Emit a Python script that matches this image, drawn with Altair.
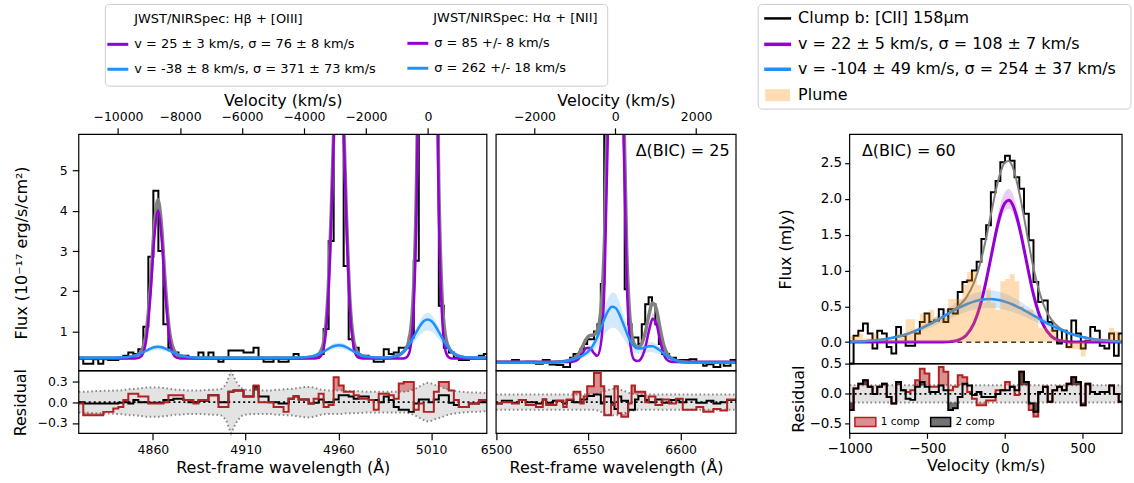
import altair as alt
import numpy as np
import pandas as pd

FONT = "DejaVu Sans"
PURPLE = "#9400d3"
BLUE = "#1e90ff"
GRAY = "#808080"
RED = "#b22222"
ORANGE = "#ff8c00"

# ---------------- data: panel 1 (Hbeta + [OIII]) ----------------
P1_START, P1_STEP = 4819.73, 2.7          # spectral bins (rest-frame Angstrom)
P1_FLUX = [0.35, 0.20, 0.20, 0.31, 0.20, 0.31, 0.29, 0.29, 0.35, 0.40,
           0.48, 0.44, 0.56, 1.12, 2.86, 4.50, 3.00, 1.18, 0.60, 0.48,
           0.40, 0.40, 0.35, 0.35, 0.48, 0.35, 0.48, 0.35, 0.25, 0.35,
           0.53, 0.53, 0.53, 0.48, 0.48, 0.60, 0.35, 0.25, 0.25, 0.35,
           0.25, 0.25, 0.35, 0.44, 0.35, 0.35, 0.37, 0.35, 0.44, 1.06,
           3.25, 7.50, 7.00, 2.63, 0.81, 0.60, 0.40, 0.40, 0.35, 0.25,
           0.25, 0.56, 0.44, 0.48, 0.60, 0.60, 0.85, 2.76, 12.0, 22.0,
           18.0, 8.00, 1.64, 0.60, 0.48, 0.35, 0.29, 0.29, 0.35, 0.35,
           0.40, 0.44]
P1_RES2 = [0.0, -0.02, -0.02, -0.02, -0.02, -0.02, -0.02, -0.02, -0.01, 0.0,
           -0.02, 0.03, 0.0, 0.0, -0.01, -0.01, -0.01, 0.03, 0.03, 0.05,
           0.05, 0.03, 0.0, 0.0, 0.02, 0.02, 0.10, 0.10, 0.0, 0.0,
           0.15, 0.17, 0.17, 0.08, 0.08, 0.23, 0.08, 0.08, 0.0, 0.0,
           -0.02, -0.02, 0.05, 0.08, 0.04, 0.04, -0.02, -0.01, 0.04, 0.0,
           0.0, 0.04, 0.10, 0.10, 0.08, 0.05, 0.08, 0.08, 0.03, 0.03,
           0.0, 0.08, 0.03, -0.07, -0.11, -0.11, -0.14, -0.02, 0.04, 0.04,
           0.0, 0.04, 0.10, 0.10, -0.01, -0.04, -0.07, -0.07, -0.02, -0.02,
           0.0, 0.0]
P1_RES1 = [-0.02, -0.19, -0.19, -0.19, -0.19, -0.14, -0.14, -0.09, -0.07, 0.03,
           0.12, 0.12, 0.08, 0.08, -0.02, -0.02, -0.02, 0.0, 0.10, 0.10,
           0.10, 0.03, 0.03, -0.02, 0.03, 0.03, 0.10, 0.10, -0.07, -0.07,
           0.15, 0.17, 0.17, 0.08, 0.08, 0.24, 0.0, 0.0, 0.0, -0.07,
           -0.07, -0.14, 0.05, 0.09, 0.04, 0.04, -0.02, 0.05, 0.12, -0.07,
           -0.04, 0.36, 0.24, 0.15, 0.15, 0.10, 0.05, 0.05, 0.03, -0.11,
           0.12, 0.12, 0.10, 0.05, 0.27, 0.29, 0.29, -0.11, -0.02, -0.14,
           -0.14, 0.15, 0.29, 0.29, 0.17, 0.03, -0.07, -0.07, -0.02, -0.02,
           0.03, 0.03]
P1_NOISE = [0.15, 0.15, 0.155, 0.16, 0.16, 0.165, 0.165, 0.17, 0.17, 0.18,
            0.19, 0.19, 0.20, 0.21, 0.21, 0.21, 0.21, 0.20, 0.19, 0.18,
            0.18, 0.17, 0.17, 0.17, 0.17, 0.175, 0.18, 0.18, 0.19, 0.25,
            0.45, 0.30, 0.20, 0.18, 0.17, 0.17, 0.17, 0.17, 0.17, 0.18,
            0.18, 0.19, 0.19, 0.20, 0.21, 0.22, 0.22, 0.20, 0.18, 0.17,
            0.17, 0.17, 0.17, 0.16, 0.16, 0.16, 0.155, 0.15, 0.15, 0.15,
            0.15, 0.15, 0.15, 0.15, 0.15, 0.15, 0.17, 0.20, 0.24, 0.28,
            0.27, 0.24, 0.22, 0.19, 0.17, 0.16, 0.15, 0.145, 0.14, 0.14,
            0.135, 0.13]
# model curves
P1_MW = [4820.0,
         4838.7, 4840.7, 4842.7, 4844.7, 4846.7, 4848.7, 4850.7, 4852.7, 4854.7, 4856.7,
         4858.7, 4860.7, 4862.7, 4864.7, 4866.7, 4868.7, 4870.7, 4872.7, 4874.7, 4876.7,
         4878.7, 4880.7, 4882.7, 4884.7, 4886.7,
         4936.2, 4938.2, 4940.2, 4942.2, 4944.2, 4946.2, 4948.2, 4950.2, 4952.2, 4954.2,
         4956.2, 4958.2, 4960.2, 4962.2, 4964.2, 4966.2, 4968.2, 4970.2, 4972.2, 4974.2,
         4976.2, 4978.2, 4980.2, 4982.2, 4984.2,
         4986.1, 4988.1, 4990.1, 4992.1, 4994.1, 4996.1, 4998.1, 5000.1, 5002.1, 5004.1,
         5006.1, 5008.1, 5010.1, 5012.1, 5014.1, 5016.1, 5018.1, 5020.1, 5022.1, 5024.1,
         5026.1, 5028.1, 5030.1, 5032.1, 5040.0]
P1_PURPLE = [0.33,
             0.33, 0.33, 0.33, 0.33, 0.33, 0.33, 0.332, 0.35, 0.462, 0.895,
             1.926, 3.31, 4.00, 3.31, 1.926, 0.895, 0.462, 0.35, 0.332, 0.33,
             0.33, 0.33, 0.33, 0.33, 0.33,
             0.33, 0.33, 0.33, 0.33, 0.33, 0.33, 0.335, 0.374, 0.618, 1.562,
             3.81, 6.826, 8.33, 6.826, 3.81, 1.562, 0.618, 0.374, 0.335, 0.33,
             0.33, 0.33, 0.33, 0.33, 0.33,
             0.33, 0.33, 0.33, 0.33, 0.33, 0.344, 0.462, 1.194, 4.026, 10.77,
             19.82, 24.33, 19.82, 10.77, 4.026, 1.194, 0.462, 0.344, 0.33, 0.33,
             0.33, 0.33, 0.33, 0.33, 0.33]
P1_BLUE = [0.35,
           0.35, 0.351, 0.354, 0.358, 0.367, 0.382, 0.407, 0.442, 0.485, 0.533,
           0.577, 0.609, 0.62, 0.609, 0.577, 0.533, 0.485, 0.442, 0.407, 0.382,
           0.367, 0.358, 0.354, 0.351, 0.35,
           0.351, 0.352, 0.354, 0.359, 0.37, 0.387, 0.415, 0.455, 0.505, 0.56,
           0.611, 0.647, 0.66, 0.647, 0.611, 0.56, 0.505, 0.455, 0.415, 0.387,
           0.37, 0.359, 0.354, 0.352, 0.351,
           0.355, 0.362, 0.379, 0.41, 0.464, 0.55, 0.672, 0.826, 0.994, 1.149,
           1.26, 1.30, 1.26, 1.149, 0.994, 0.826, 0.672, 0.55, 0.464, 0.41,
           0.379, 0.362, 0.355, 0.352, 0.35]
P1_TOTAL = [0.34,
            0.34, 0.341, 0.344, 0.348, 0.357, 0.372, 0.399, 0.452, 0.607, 1.088,
            2.163, 3.579, 4.28, 3.579, 2.163, 1.088, 0.607, 0.452, 0.399, 0.372,
            0.357, 0.348, 0.344, 0.341, 0.34,
            0.341, 0.342, 0.344, 0.349, 0.36, 0.377, 0.41, 0.489, 0.783, 1.782,
            4.081, 7.133, 8.65, 7.133, 4.081, 1.782, 0.783, 0.489, 0.41, 0.377,
            0.36, 0.349, 0.344, 0.342, 0.341,
            0.345, 0.352, 0.369, 0.40, 0.454, 0.554, 0.794, 1.68, 4.68, 11.58,
            20.74, 25.29, 20.74, 11.58, 4.68, 1.68, 0.794, 0.554, 0.454, 0.40,
            0.369, 0.352, 0.345, 0.342, 0.34]
P1_BAND_LO = [0.35,
              0.35, 0.351, 0.352, 0.356, 0.362, 0.373, 0.39, 0.414, 0.445, 0.479,
              0.51, 0.532, 0.54, 0.532, 0.51, 0.479, 0.445, 0.414, 0.39, 0.373,
              0.362, 0.356, 0.352, 0.351, 0.35,
              0.35, 0.351, 0.353, 0.357, 0.364, 0.378, 0.399, 0.428, 0.465, 0.506,
              0.543, 0.57, 0.58, 0.57, 0.543, 0.506, 0.465, 0.428, 0.399, 0.378,
              0.364, 0.357, 0.353, 0.351, 0.35,
              0.353, 0.359, 0.37, 0.393, 0.432, 0.493, 0.581, 0.691, 0.811, 0.922,
              1.001, 1.03, 1.001, 0.922, 0.811, 0.691, 0.581, 0.493, 0.432, 0.393,
              0.37, 0.359, 0.353, 0.351, 0.35]
P1_BAND_HI = [0.35,
              0.35, 0.352, 0.354, 0.36, 0.371, 0.39, 0.42, 0.462, 0.515, 0.574,
              0.628, 0.666, 0.68, 0.666, 0.628, 0.574, 0.515, 0.462, 0.42, 0.39,
              0.371, 0.36, 0.354, 0.352, 0.35,
              0.351, 0.352, 0.355, 0.361, 0.374, 0.396, 0.43, 0.479, 0.54, 0.608,
              0.67, 0.714, 0.73, 0.714, 0.67, 0.608, 0.54, 0.479, 0.43, 0.396,
              0.374, 0.361, 0.355, 0.352, 0.351,
              0.356, 0.365, 0.384, 0.421, 0.484, 0.586, 0.73, 0.911, 1.109, 1.292,
              1.423, 1.47, 1.423, 1.292, 1.109, 0.911, 0.73, 0.586, 0.484, 0.421,
              0.384, 0.365, 0.356, 0.352, 0.35]

# ---------------- data: panel 2 (Halpha + [NII]) ----------------
P2_START, P2_STEP = 6499.4, 1.85
P2_FLUX = [0.25, 0.25, 0.25, 0.25, 0.25, 0.29, 0.29, 0.23, 0.23, 0.25,
           0.25, 0.25, 0.20, 0.20, 0.29, 0.29, 0.18, 0.18, 0.17, 0.17,
           0.12, 0.12, 0.35, 0.44, 0.44, 0.56, 0.69, 0.81, 0.81, 1.00,
           1.18, 2.18, 6.5, 11.0, 15.0, 16.0, 12.0, 7.0, 2.05, 1.18,
           0.85, 0.85, 0.69, 1.18, 1.68, 1.85, 1.68, 1.18, 0.69, 0.44,
           0.44, 0.35, 0.35, 0.29, 0.29, 0.29, 0.29, 0.31, 0.31, 0.23,
           0.23, 0.15, 0.19, 0.19, 0.12, 0.12, 0.23, 0.15, 0.15, 0.29,
           0.29]
P2_RES2 = [-0.02, -0.02, 0.02, 0.02, 0.02, -0.01, -0.01, 0.03, 0.03, 0.0,
           0.0, 0.0, -0.02, -0.02, 0.04, -0.01, -0.01, 0.02, 0.02, 0.02,
           -0.02, 0.03, 0.03, 0.0, 0.0, 0.04, 0.04, 0.09, 0.09, 0.11,
           0.11, -0.02, 0.08, 0.08, -0.01, -0.10, 0.08, 0.02, 0.02, -0.11,
           -0.11, 0.04, 0.09, 0.09, 0.03, 0.0, 0.0, 0.04, 0.04, -0.01,
           -0.01, 0.03, 0.03, 0.03, 0.0, 0.0, 0.04, 0.04, 0.04, -0.01,
           -0.01, -0.01, 0.02, 0.02, -0.02, -0.02, 0.0, 0.0, 0.03, 0.03,
           0.03]
P2_RES1 = [-0.02, -0.02, 0.0, 0.0, 0.0, -0.02, -0.02, 0.03, 0.03, -0.04,
           -0.04, -0.04, -0.07, -0.07, 0.04, -0.04, -0.04, -0.04, 0.02, 0.02,
           -0.07, 0.04, 0.04, 0.15, 0.15, -0.02, 0.08, 0.23, 0.23, 0.42,
           0.42, 0.23, -0.19, -0.19, -0.04, 0.23, -0.16, -0.21, -0.21, -0.02,
           0.24, 0.15, 0.15, 0.15, 0.0, 0.08, 0.08, -0.04, -0.04, 0.04,
           0.04, -0.02, -0.02, 0.05, 0.05, -0.11, -0.11, -0.11, -0.11, -0.07,
           -0.07, -0.14, -0.14, -0.14, -0.10, -0.10, -0.12, -0.12, 0.04, 0.04,
           0.04]
P2_NOISE = [0.11] * 30 + [0.13, 0.15, 0.17, 0.18, 0.19, 0.19, 0.18, 0.17, 0.15, 0.13, 0.12] + [0.11] * 30
P2_MW = [6500.0, 6530.0, 6534.8,
         6536.8, 6538.8, 6540.8, 6542.8, 6544.8, 6546.8, 6548.8, 6550.8, 6552.8, 6554.8,
         6556.8, 6558.8, 6560.8, 6562.8, 6564.8, 6566.8, 6568.8, 6570.8, 6572.8, 6574.8,
         6576.8, 6578.8, 6580.8, 6582.8, 6584.8, 6586.8, 6588.8, 6590.8, 6592.8, 6594.8,
         6596.8, 6598.8, 6600.8, 6604.8, 6610.0, 6630.0]
P2_PURPLE = [0.24, 0.24, 0.24,
             0.24, 0.24, 0.244, 0.263, 0.327, 0.457, 0.586, 0.594, 0.477, 0.396,
             0.694, 2.275, 6.405, 12.25, 15.24, 12.25, 6.405, 2.27, 0.668, 0.30,
             0.265, 0.345, 0.594, 1.011, 1.315, 1.202, 0.792, 0.443, 0.288, 0.247,
             0.24, 0.24, 0.24, 0.24, 0.24, 0.24]
P2_BLUE = [0.23, 0.232, 0.242,
           0.253, 0.27, 0.294, 0.324, 0.36, 0.403, 0.46, 0.545, 0.675, 0.859,
           1.087, 1.325, 1.519, 1.615, 1.585, 1.432, 1.207, 0.966, 0.764, 0.633,
           0.578, 0.58, 0.609, 0.634, 0.632, 0.596, 0.533, 0.457, 0.384, 0.325,
           0.283, 0.256, 0.242, 0.232, 0.23, 0.23]
P2_TOTAL = [0.235, 0.237, 0.247,
            0.258, 0.275, 0.303, 0.352, 0.452, 0.625, 0.811, 0.904, 0.917, 1.02,
            1.546, 3.365, 7.689, 13.63, 16.59, 13.447, 7.377, 3.001, 1.197, 0.698,
            0.608, 0.69, 0.968, 1.41, 1.712, 1.563, 1.09, 0.665, 0.437, 0.337,
            0.288, 0.261, 0.247, 0.237, 0.235, 0.235]
P2_BAND_LO = [0.23, 0.231, 0.238,
              0.244, 0.255, 0.27, 0.289, 0.312, 0.339, 0.375, 0.428, 0.51, 0.626,
              0.77, 0.92, 1.042, 1.103, 1.084, 0.987, 0.846, 0.694, 0.566, 0.484,
              0.449, 0.451, 0.469, 0.485, 0.483, 0.461, 0.421, 0.373, 0.327, 0.29,
              0.263, 0.246, 0.238, 0.231, 0.23, 0.23]
P2_BAND_HI = [0.23, 0.233, 0.245,
              0.259, 0.28, 0.311, 0.348, 0.394, 0.448, 0.52, 0.627, 0.791, 1.023,
              1.31, 1.61, 1.854, 1.975, 1.937, 1.745, 1.461, 1.157, 0.903, 0.738,
              0.668, 0.671, 0.708, 0.739, 0.737, 0.691, 0.612, 0.516, 0.424, 0.35,
              0.297, 0.263, 0.245, 0.233, 0.23, 0.23]
P2_PB_W = [6540.8, 6542.8, 6544.8, 6546.8, 6548.8, 6550.8, 6552.8, 6554.8,
           6576.8, 6578.8, 6580.8, 6582.8, 6584.8, 6586.8, 6588.8, 6590.8, 6592.8, 6594.8]
P2_PB_SEG = ["a"] * 8 + ["b"] * 10
P2_PB_LO = [0.244, 0.261, 0.318, 0.435, 0.551, 0.559, 0.453, 0.38,
            0.263, 0.335, 0.559, 0.934, 1.208, 1.106, 0.737, 0.423, 0.283, 0.246]
P2_PB_HI = [0.245, 0.266, 0.34, 0.49, 0.638, 0.647, 0.513, 0.419,
            0.269, 0.361, 0.647, 1.127, 1.476, 1.346, 0.875, 0.473, 0.295, 0.248]

# ---------------- data: panel 3 ([CII] clump b) ----------------
P3_START, P3_STEP = -1005.0, 30.5        # velocity bins (km/s)
P3_FLUX = [-0.30, 0.09, 0.16, 0.26, 0.12, -0.09, 0.16, 0.12, -0.07, -0.16,
           0.21, 0.09, -0.05, -0.05, 0.12, 0.28, 0.40, 0.28, 0.30, 0.46,
           0.28, 0.46, 0.40, 0.70, 0.84, 0.86, 1.00, 1.12, 1.44, 1.63,
           2.09, 2.25, 2.51, 2.60, 2.53, 2.30, 2.14, 1.79, 1.42, 0.84,
           0.56, 0.58, 0.28, 0.16, -0.02, 0.16, -0.07, 0.30, 0.12, -0.09,
           0.02, 0.21, 0.16, -0.05, -0.09, 0.12, -0.19, 0.12]
P3_PLUME = [0.08, 0.08, 0.12, 0.05, 0.05, 0.12, 0.05, 0.05, 0.03, 0.03,
            0.12, 0.12, 0.32, 0.32, 0.14, 0.40, 0.40, 0.45, 0.35, 0.35,
            0.35, 0.60, 0.60, 0.60, 0.80, 0.98, 0.98, 0.80, 0.55, 0.75,
            0.55, 0.45, 0.85, 0.88, 0.95, 0.85, 0.50, 0.45, 0.45, 0.35,
            0.20, 0.20, 0.18, 0.18, 0.05, 0.05, -0.10, -0.10, -0.10, -0.20,
            0.05, 0.05, 0.05, 0.05, 0.05, 0.20, 0.15, 0.10]
P3_RES2 = [-0.27, 0.09, 0.17, 0.23, 0.12, 0.0, 0.12, 0.17, -0.05, -0.16,
           0.20, 0.06, -0.08, -0.10, 0.12, 0.20, 0.12, 0.03, 0.03, 0.14,
           0.06, -0.27, -0.24, -0.05, 0.17, 0.14, -0.02, 0.03, -0.05, -0.05,
           -0.05, 0.0, 0.06, 0.06, 0.12, 0.06, 0.37, 0.20, -0.16, -0.30,
           0.03, 0.12, -0.13, 0.06, 0.12, 0.06, 0.17, 0.28, 0.20, -0.19,
           0.17, 0.03, 0.0, 0.03, 0.03, 0.14, 0.0, -0.13]
P3_RES1 = [-0.27, 0.09, 0.17, 0.23, 0.12, 0.0, 0.12, 0.17, -0.05, -0.16,
           0.20, 0.06, 0.03, 0.06, 0.23, 0.42, 0.34, 0.12, 0.12, 0.45,
           0.37, 0.06, 0.12, 0.31, 0.28, 0.03, -0.08, -0.19, -0.19, -0.11,
           -0.11, 0.06, 0.06, 0.20, 0.12, -0.02, 0.37, 0.20, -0.27, -0.38,
           0.03, 0.12, -0.13, 0.06, 0.12, 0.06, 0.17, 0.28, 0.20, -0.19,
           0.17, 0.03, 0.0, 0.03, 0.03, 0.14, 0.0, -0.13]
P3_NOISE = 0.145
P3_MV = [-1000, -950, -900, -850, -800, -750, -700, -650, -600, -550, -500,
         -450, -400, -350, -300, -250, -200, -175, -150, -125, -100, -75, -50, -25,
         0, 25, 50, 75, 100, 125, 150, 175, 200, 250, 300, 350, 400, 450,
         500, 550, 600, 650, 700, 755]
P3_PURPLE = [0, 0, 0, 0, 0, 0, 0, 0, 0, 0, 0,
             0.0, 0.001, 0.0065, 0.027, 0.093, 0.258, 0.398, 0.583, 0.81, 1.07, 1.34, 1.60, 1.81,
             1.94, 1.98, 1.92, 1.76, 1.54, 1.28, 1.01, 0.75, 0.535, 0.23, 0.081, 0.023, 0.005, 0.001,
             0, 0, 0, 0, 0, 0]
P3_BLUE = [0.005, 0.008, 0.013, 0.021, 0.032, 0.049, 0.071, 0.099, 0.136, 0.18, 0.232,
           0.29, 0.352, 0.414, 0.473, 0.525, 0.565, 0.58, 0.591, 0.598, 0.60, 0.598, 0.591, 0.58,
           0.565, 0.547, 0.525, 0.50, 0.473, 0.444, 0.414, 0.383, 0.352, 0.29, 0.232, 0.18, 0.136, 0.099,
           0.071, 0.049, 0.032, 0.021, 0.013, 0.008]
P3_TOTAL = [0.005, 0.008, 0.013, 0.021, 0.032, 0.049, 0.071, 0.099, 0.136, 0.18, 0.232,
            0.29, 0.353, 0.42, 0.50, 0.618, 0.823, 0.978, 1.174, 1.408, 1.67, 1.938, 2.191, 2.39,
            2.505, 2.527, 2.445, 2.26, 2.013, 1.724, 1.424, 1.133, 0.887, 0.52, 0.313, 0.203, 0.141, 0.10,
            0.071, 0.049, 0.032, 0.021, 0.013, 0.008]
P3_PB_V = [-250, -200, -175, -150, -125, -100, -75, -50, -25, 0, 25, 50, 75, 100, 125, 150, 175, 200, 250, 300]
P3_PB_LO = [0.087, 0.243, 0.374, 0.548, 0.761, 1.006, 1.26, 1.504, 1.701, 1.824, 1.861, 1.805,
            1.654, 1.448, 1.203, 0.949, 0.705, 0.503, 0.216, 0.076]
P3_PB_HI = [0.10, 0.279, 0.43, 0.63, 0.875, 1.156, 1.447, 1.728, 1.955, 2.095, 2.138, 2.074,
            1.901, 1.663, 1.382, 1.091, 0.81, 0.578, 0.248, 0.087]
P3_BB_V = [-700, -650, -600, -550, -500, -450, -400, -350, -300, -250, -200, -150, -100,
           -50, 0, 50, 100, 150, 200, 250, 300, 350, 400, 450, 500]
P3_BB_LO = [0.057, 0.079, 0.109, 0.144, 0.186, 0.232, 0.282, 0.331, 0.378, 0.42, 0.452, 0.473, 0.48,
            0.473, 0.452, 0.42, 0.378, 0.331, 0.282, 0.232, 0.186, 0.144, 0.109, 0.079, 0.057]
P3_BB_HI = [0.085, 0.119, 0.163, 0.216, 0.278, 0.348, 0.422, 0.497, 0.568, 0.63, 0.678, 0.709, 0.72,
            0.709, 0.678, 0.63, 0.568, 0.497, 0.422, 0.348, 0.278, 0.216, 0.163, 0.119, 0.085]

# ---------------- text ----------------
LEG1_HEAD = ["JWST/NIRSpec: H\u03b2 + [OIII]", "JWST/NIRSpec: H\u03b1 + [NII]"]
LEG1_COL1 = ["v = 25 \u00b1 3 km/s, \u03c3 = 76 \u00b1 8 km/s", "v = -38 \u00b1 8 km/s, \u03c3 = 371 \u00b1 73 km/s"]
LEG1_COL2 = ["\u03c3 = 85 +/- 8 km/s", "\u03c3 = 262 +/- 18 km/s"]
LEG2 = ["Clump b: [CII] 158\u03bcm", "v = 22 \u00b1 5 km/s, \u03c3 = 108 \u00b1 7 km/s",
        "v = -104 \u00b1 49 km/s, \u03c3 = 254 \u00b1 37 km/s", "Plume"]
LEG3 = ["1 comp", "2 comp"]
BIC = ["\u0394(BIC) = 25", "\u0394(BIC) = 60"]

# ---------------- layout (pixels relative to plot origin) ----------------
W, H = 1046.7, 300
R1, R2, R3 = [0, 409.4], [418.7, 659.4], [773.4, 1046.7]
MAIN12, RES12 = [237, 0], [300, 237.4]
MAIN3, RES3 = [230, 0], [300, 230.4]
C_KMS = 299792.458
ONE = pd.DataFrame({"k": [0]})


def sc(domain, rng):
    return alt.Scale(domain=domain, range=rng, nice=False, zero=False)


def ax(orient, values, fmt, title, lsize, tpad, offset=None, tick=5, lpad=3):
    kw = dict(orient=orient, values=values, format=fmt, title=title, labelFontSize=lsize,
              titleFontSize=16, titlePadding=tpad, domain=False, grid=False, tickSize=tick,
              tickWidth=1.2, tickColor="black", labelPadding=lpad, labelFlush=False,
              labelOverlap=False, labelFont=FONT, titleFont=FONT, titleFontWeight="normal",
              labelColor="black", titleColor="black")
    if orient in ("left", "right"):
        kw["titleBaseline"] = "alphabetic"
    if offset is not None:
        kw["offset"] = offset
    return alt.Axis(**kw)


class P:
    """Holds the scales and axes of one panel, so every layer uses identical definitions."""

    def __init__(self, sx, sy, axx, axy):
        self.sx, self.sy, self.axx, self.axy = sx, sy, axx, axy

    def x(self, f):
        return alt.X(f, type="quantitative", scale=self.sx, axis=self.axx)

    def y(self, f):
        return alt.Y(f, type="quantitative", scale=self.sy, axis=self.axy)

    def dx(self, v):
        return alt.X(datum=v, type="quantitative", scale=self.sx, axis=self.axx)

    def dy(self, v):
        return alt.Y(datum=v, type="quantitative", scale=self.sy, axis=self.axy)


def frame(p, xd, yd):
    return alt.Chart(ONE).mark_rect(fillOpacity=0, stroke="black", strokeWidth=1.2).encode(
        x=p.dx(xd[0]), x2=alt.X2(datum=xd[1]), y=p.dy(yd[0]), y2=alt.Y2(datum=yd[1]))


def step_df(start, step, vals, lo, hi):
    edges = np.clip(start + step * np.arange(len(vals) + 1), lo, hi)
    return pd.DataFrame({"x": edges, "y": list(vals) + [vals[-1]]})


def resid_layers(start, step, r2, r1, noise, lo, hi, p, red_top):
    n = len(r2)
    noise = np.asarray(noise, dtype=float)
    centers = np.clip(start + step * (np.arange(n) + 0.5), lo, hi)
    nx = np.concatenate([[lo], centers, [hi]])
    nv = np.concatenate([[noise[0]], noise, [noise[-1]]])
    ndf = pd.DataFrame({"x": nx, "hi": nv, "lo": -nv})
    edges = np.clip(start + step * np.arange(n + 1), lo, hi)
    a2 = np.array(list(r2) + [r2[-1]])
    a1 = np.array(list(r1) + [r1[-1]])
    an = np.concatenate([noise, [noise[-1]]])
    sdf = pd.DataFrame({"x": edges, "r2": a2, "r1": a1, "n": an, "nn": -an,
                        "u1": np.maximum(a1, an), "d1": np.minimum(a1, -an),
                        "u2": np.maximum(a2, an), "d2": np.minimum(a2, -an)})
    band = alt.Chart(ndf).mark_area(color="#e3e3e3").encode(x=p.x("x"), y=p.y("lo"), y2="hi")
    dhi = alt.Chart(ndf).mark_line(color="#8a8a8a", strokeDash=[1.6, 2.6], strokeWidth=2).encode(
        x=p.x("x"), y=p.y("hi"))
    dlo = alt.Chart(ndf).mark_line(color="#8a8a8a", strokeDash=[1.6, 2.6], strokeWidth=2).encode(
        x=p.x("x"), y=p.y("lo"))
    zero = alt.Chart(ONE).mark_rule(color="black", strokeDash=[2, 3], strokeWidth=1.8).encode(
        x=p.dx(lo), x2=alt.X2(datum=hi), y=p.dy(0))
    fills = []
    for col, base, color, op in [("u1", "n", RED, 0.5), ("d1", "nn", RED, 0.5),
                                 ("u2", "n", "black", 0.55), ("d2", "nn", "black", 0.55)]:
        fills.append(alt.Chart(sdf).mark_area(interpolate="step-after", color=color, opacity=op).encode(
            x=p.x("x"), y=p.y(col), y2=base))
    l2 = alt.Chart(sdf).mark_line(interpolate="step-after", color="black", strokeWidth=2).encode(
        x=p.x("x"), y=p.y("r2"))
    l1 = alt.Chart(sdf).mark_line(interpolate="step-after", color=RED, strokeWidth=2).encode(
        x=p.x("x"), y=p.y("r1"))
    lines = [l2, l1] if red_top else [l1, l2]
    return [band, dhi, dlo, zero] + fills + lines


def curve(df, p, field, color, width, clip=True):
    return alt.Chart(df).mark_line(interpolate="monotone", color=color, strokeWidth=width, clip=clip).encode(
        x=p.x("x"), y=p.y(field))


# ================= panel 1 =================
D1 = [4820, 5040]
Y12 = [0.03, 5.9]
AX1B = ax("bottom", [4860, 4910, 4960, 5010], "d", "Rest-frame wavelength (\u00c5)", 12.5, 3, tick=6.5, lpad=4)
S1X = sc(D1, R1)
A1 = P(S1X, sc(Y12, MAIN12), AX1B,
       ax("left", [1, 2, 3, 4, 5], "d", "Flux (10\u207b\u00b9\u2077 erg/s/cm\u00b2)", 12.5, 33, tick=6.5, lpad=5))
B1 = P(S1X, sc([-0.45, 0.45], RES12), AX1B,
       ax("left", [-0.3, 0, 0.3], ".1f", "Residual", 12.5, 12, tick=6.5, lpad=5))
V1 = sc([C_KMS * (D1[0] / 5008.24 - 1), C_KMS * (D1[1] / 5008.24 - 1)], R1)

m1 = pd.DataFrame({"x": P1_MW, "p": P1_PURPLE, "b": P1_BLUE, "t": P1_TOTAL, "lo": P1_BAND_LO, "hi": P1_BAND_HI})
s1 = step_df(P1_START, P1_STEP, P1_FLUX, *D1)
p1_main = alt.layer(
    alt.Chart(m1).mark_area(color=BLUE, opacity=0.2).encode(x=A1.x("x"), y=A1.y("lo"), y2="hi"),
    alt.Chart(s1).mark_line(interpolate="step-after", color="black", strokeWidth=2, clip=True).encode(
        x=A1.x("x"), y=A1.y("y")),
    curve(m1, A1, "t", GRAY, 3.5), curve(m1, A1, "p", PURPLE, 2.5), curve(m1, A1, "b", BLUE, 2.5),
    frame(A1, D1, Y12),
)
p1_res = alt.layer(*resid_layers(P1_START, P1_STEP, P1_RES2, P1_RES1, P1_NOISE, D1[0], D1[1], B1, True),
                   frame(B1, D1, [-0.45, 0.45]))
top1 = alt.Chart(ONE).mark_point(opacity=0).encode(
    x=alt.X(datum=0, type="quantitative", scale=V1,
            axis=ax("top", [-10000, -8000, -6000, -4000, -2000, 0], "d", "Velocity (km/s)", 12.5, 2, tick=6.5, lpad=4)),
    y=alt.value(0))
p1 = alt.layer(alt.layer(p1_main, p1_res).resolve_scale(y="independent"), top1).resolve_scale(
    x="independent", y="independent")

# ================= panel 2 =================
D2 = [6500, 6630]
AX2B = ax("bottom", [6500, 6550, 6600], "d", "Rest-frame wavelength (\u00c5)", 12.5, 3, tick=6.5, lpad=4)
S2X = sc(D2, R2)
A2 = P(S2X, sc(Y12, MAIN12), AX2B, None)
B2 = P(S2X, sc([-0.45, 0.45], RES12), AX2B, None)
V2 = sc([C_KMS * (D2[0] / 6564.61 - 1), C_KMS * (D2[1] / 6564.61 - 1)], R2)

m2 = pd.DataFrame({"x": P2_MW, "p": P2_PURPLE, "b": P2_BLUE, "t": P2_TOTAL, "lo": P2_BAND_LO, "hi": P2_BAND_HI})
pb2 = pd.DataFrame({"x": P2_PB_W, "seg": P2_PB_SEG, "lo": P2_PB_LO, "hi": P2_PB_HI})
s2 = step_df(P2_START, P2_STEP, P2_FLUX, *D2)
p2_main = alt.layer(
    alt.Chart(m2).mark_area(color=BLUE, opacity=0.2).encode(x=A2.x("x"), y=A2.y("lo"), y2="hi"),
    alt.Chart(pb2).mark_area(color=PURPLE, opacity=0.2).encode(x=A2.x("x"), y=A2.y("lo"), y2="hi", detail="seg:N"),
    alt.Chart(s2).mark_line(interpolate="step-after", color="black", strokeWidth=2, clip=True).encode(
        x=A2.x("x"), y=A2.y("y")),
    curve(m2, A2, "t", GRAY, 3.5), curve(m2, A2, "p", PURPLE, 2.5), curve(m2, A2, "b", BLUE, 2.5),
    alt.Chart(ONE).mark_text(text=BIC[0], align="right", baseline="middle", fontSize=16, font=FONT,
                             color="black").encode(x=A2.dx(6626.5), y=A2.dy(5.49)),
    frame(A2, D2, Y12),
)
p2_res = alt.layer(*resid_layers(P2_START, P2_STEP, P2_RES2, P2_RES1, P2_NOISE, D2[0], D2[1], B2, True),
                   frame(B2, D2, [-0.45, 0.45]))
top2 = alt.Chart(ONE).mark_point(opacity=0).encode(
    x=alt.X(datum=0, type="quantitative", scale=V2,
            axis=ax("top", [-2000, 0, 2000], "d", "Velocity (km/s)", 12.5, 2, tick=6.5, lpad=4)),
    y=alt.value(0))
p2 = alt.layer(alt.layer(p2_main, p2_res).resolve_scale(y="independent"), top2).resolve_scale(
    x="independent", y="independent")

# ================= panel 3 =================
D3 = [-1000, 755]
Y3 = [-0.30, 2.9]
Y3R = [-0.66, 0.5]
OFF3 = -R3[0]
AX3B = ax("bottom", [-1000, -500, 0, 500], "d", "Velocity (km/s)", 13.5, 3)
S3X = sc(D3, R3)
A3 = P(S3X, sc(Y3, MAIN3), AX3B,
       ax("left", [0, 0.5, 1.0, 1.5, 2.0, 2.5], ".1f", "Flux (mJy)", 13.5, 30, offset=OFF3))
B3 = P(S3X, sc(Y3R, RES3), AX3B,
       ax("left", [-0.5, 0, 0.5], ".1f", "Residual", 13.5, 5, offset=OFF3))

m3 = pd.DataFrame({"x": P3_MV, "p": P3_PURPLE, "b": P3_BLUE, "t": P3_TOTAL})
pb3 = pd.DataFrame({"x": P3_PB_V, "lo": P3_PB_LO, "hi": P3_PB_HI})
bb3 = pd.DataFrame({"x": P3_BB_V, "lo": P3_BB_LO, "hi": P3_BB_HI})
s3 = step_df(P3_START, P3_STEP, P3_FLUX, *D3)
pl3 = step_df(P3_START, P3_STEP, P3_PLUME, *D3)
p3_main = alt.layer(
    alt.Chart(bb3).mark_area(color=BLUE, opacity=0.2, interpolate="monotone").encode(
        x=A3.x("x"), y=A3.y("lo"), y2="hi"),
    alt.Chart(pb3).mark_area(color=PURPLE, opacity=0.2, interpolate="monotone").encode(
        x=A3.x("x"), y=A3.y("lo"), y2="hi"),
    alt.Chart(ONE).mark_rule(color="black", strokeDash=[5, 4], strokeWidth=1.2).encode(
        x=A3.dx(D3[0]), x2=alt.X2(datum=D3[1]), y=A3.dy(0)),
    alt.Chart(s3).mark_line(interpolate="step-after", color="black", strokeWidth=2, clip=True).encode(
        x=A3.x("x"), y=A3.y("y")),
    curve(m3, A3, "t", GRAY, 2), curve(m3, A3, "p", PURPLE, 3), curve(m3, A3, "b", BLUE, 2.5),
    alt.Chart(pl3).mark_area(interpolate="step-after", color=ORANGE, opacity=0.3).encode(
        x=A3.x("x"), y=A3.y("y"), y2=alt.Y2(datum=0)),
    alt.Chart(ONE).mark_text(text=BIC[1], align="left", baseline="middle", fontSize=16, font=FONT,
                             color="black").encode(x=A3.dx(-921), y=A3.dy(2.67)),
    frame(A3, D3, Y3),
)
p3_res = alt.layer(
    *resid_layers(P3_START, P3_STEP, P3_RES2, P3_RES1, np.full(len(P3_RES2), P3_NOISE),
                  D3[0], D3[1], B3, False),
    frame(B3, D3, Y3R))
p3 = alt.layer(p3_main, p3_res).resolve_scale(y="independent")


# ================= legends (annotation, pixel placed) =================
def txt(x, y, s, size, align="left"):
    return alt.Chart(ONE).mark_text(text=s, align=align, baseline="middle", fontSize=size,
                                    font=FONT, color="black").encode(x=alt.value(x), y=alt.value(y))


def handle(x0, x1, y, color, w):
    return alt.Chart(ONE).mark_rule(color=color, strokeWidth=w).encode(
        x=alt.value(x0), x2=alt.value(x1), y=alt.value(y))


def box(x0, x1, y0, y1, **kw):
    return alt.Chart(ONE).mark_rect(**kw).encode(
        x=alt.value(x0), x2=alt.value(x1), y=alt.value(y0), y2=alt.value(y1))


legend = [
    box(26.7, 530.7, -130.3, -48.3, fill="white", stroke="#cccccc", strokeWidth=1, cornerRadius=4),
    txt(55.7, -115.3, LEG1_HEAD[0], 13),
    handle(28.7, 49.7, -90.3, PURPLE, 3), txt(55.7, -90.3, LEG1_COL1[0], 13),
    handle(28.7, 49.7, -65.3, BLUE, 3), txt(55.7, -65.3, LEG1_COL1[1], 13),
    txt(355.7, -116.3, LEG1_HEAD[1], 13),
    handle(329.7, 350.7, -91.3, PURPLE, 3), txt(356.7, -91.3, LEG1_COL2[0], 13),
    handle(329.7, 350.7, -66.3, BLUE, 3), txt(356.7, -66.3, LEG1_COL2[1], 13),
    box(681.7, 1055.7, -130.3, -25.3, fill="white", stroke="#cccccc", strokeWidth=1, cornerRadius=4),
    handle(687.7, 714.7, -116.3, "black", 2.5), txt(721.7, -116.3, LEG2[0], 16),
    handle(687.7, 714.7, -90.3, PURPLE, 3.5), txt(721.7, -90.3, LEG2[1], 16),
    handle(687.7, 714.7, -65.3, BLUE, 3.5), txt(721.7, -65.3, LEG2[2], 16),
    box(688.7, 713.7, -45.3, -33.3, fill=ORANGE, fillOpacity=0.3, strokeWidth=0),
    txt(721.7, -39.3, LEG2[3], 16),
    box(778.7, 799.7, 284.2, 293.2, fill=RED, fillOpacity=0.5, stroke=RED, strokeWidth=1.5),
    txt(804.7, 288.7, LEG3[0], 10.5),
    box(854.7, 874.7, 284.2, 293.2, fill="black", fillOpacity=0.55, stroke="black", strokeWidth=1.5),
    txt(879.7, 288.7, LEG3[1], 10.5),
]

chart = alt.layer(p1, p2, p3, *legend).resolve_scale(x="independent", y="independent").properties(
    width=W, height=H, padding={"left": 12, "top": 3, "right": 2, "bottom": 2}
).configure(font=FONT).configure_view(stroke="transparent", strokeWidth=0)

chart.save("out.html", embed_options={"renderer": "svg", "actions": False})
